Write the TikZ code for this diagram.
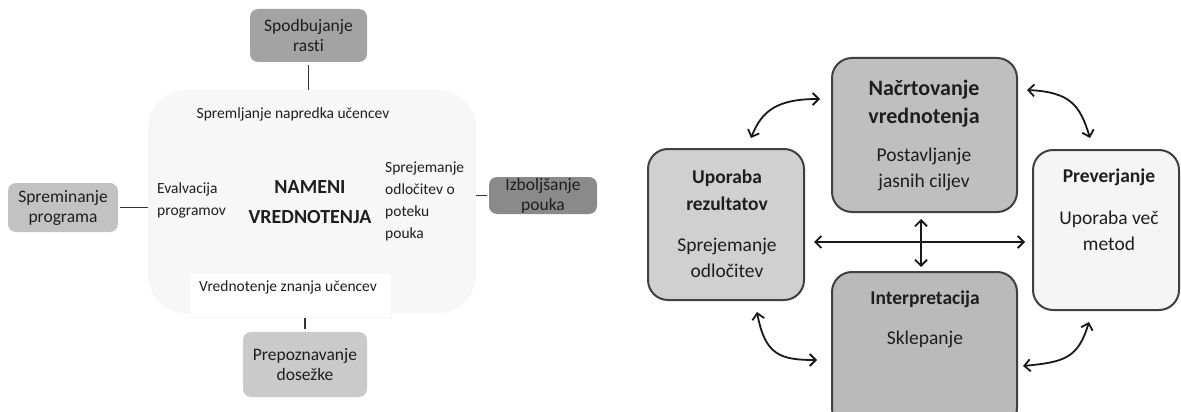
\documentclass[tikz,border=0pt]{standalone}
\usepackage{fontspec}
\setmainfont{Carlito}[Ligatures=NoCommon]
\usetikzlibrary{arrows.meta}
\definecolor{cspod}{HTML}{A3A3A3}
\definecolor{cizb}{HTML}{8A8A8A}
\definecolor{csprem}{HTML}{C2C2C2}
\definecolor{cprep}{HTML}{CACACA}
\definecolor{cbig}{HTML}{F7F7F7}
\definecolor{cnac}{HTML}{BFBFBF}
\definecolor{cupo}{HTML}{D0D0D0}
\definecolor{cpre}{HTML}{F5F5F5}
\definecolor{cint}{HTML}{BABABA}
\definecolor{cline}{HTML}{333333}
\definecolor{cborder}{HTML}{404040}
\definecolor{ctext}{HTML}{1E1E1E}
\begin{document}
\begin{tikzpicture}[x=1pt,y=-1pt,
  lbox/.style={draw=none, rounded corners=8pt, align=center, inner sep=0pt,
    font=\fontsize{17.5}{20}\selectfont, text=ctext},
  txt/.style={inner sep=0pt, font=\fontsize{15.5}{22}\selectfont, text=ctext},
  bigtxt/.style={inner sep=0pt, align=center, font=\fontsize{20}{30}\selectfont\bfseries, text=ctext},
  rbox/.style={draw=cborder, line width=2pt, rounded corners=20pt, inner sep=0pt},
  rhead/.style={inner sep=0pt, align=center, font=\fontsize{19.5}{27}\selectfont\bfseries, text=ctext},
  rbig/.style={inner sep=0pt, align=center, font=\fontsize{22}{28}\selectfont\bfseries, text=ctext},
  rbody/.style={inner sep=0pt, align=center, font=\fontsize{19.5}{26}\selectfont, text=ctext},
  conn/.style={line width=1.8pt, draw=cline},
  dbl/.style={line width=1.8pt, draw=black!90,
    {Straight Barb[length=6pt,width=12pt]}-{Straight Barb[length=6pt,width=12pt]}}]
\clip (0,0) rectangle (1181,412);
\fill[white] (0,0) rectangle (1181,412);

% ---------- left diagram ----------
\node[rounded corners=38pt, fill=cbig, minimum width=328pt, minimum height=223pt, inner sep=0pt] (big) at (312,201.5) {};
\node[fill=white, draw=black!4, line width=0.6pt, minimum width=202pt, minimum height=44pt, inner sep=0pt] (vz) at (290,295) {};

\node[lbox, fill=cspod, minimum width=117pt, minimum height=53pt] (spod) at (308.5,35.5) {Spodbujanje\\rasti};
\node[lbox, fill=cizb, minimum width=108pt, minimum height=37pt] (izb) at (543,195.5) {Izboljšanje\\pouka};
\node[lbox, fill=csprem, minimum width=110pt, minimum height=49pt] (sprem) at (63,207.5) {Spreminanje\\programa};
\node[lbox, fill=cprep, minimum width=124pt, minimum height=65pt] (prep) at (305,364.5) {Prepoznavanje\\dosežke};

\node[txt] (spr) at (293,114) {Spremljanje napredka učencev};
\node[txt, anchor=west, align=left] (eval) at (157,200) {Evalvacija\\programov};
\node[bigtxt] (nam) at (310,202) {NAMENI\\VREDNOTENJA};
\node[txt, anchor=west, align=left] (odl) at (385,201) {Sprejemanje\\odločitev o\\poteku\\pouka};
\node[txt] (vzt) at (288,287) {Vrednotenje znanja učencev};

\draw[conn, shorten <=3pt] (spod.south) -- (spod.south |- big.north);
\draw[conn, shorten <=2pt] (sprem.east) -- (sprem.east -| big.west);
\draw[conn, shorten <=2pt] (izb.west) -- (izb.west -| big.east);
\draw[conn, shorten <=1pt, shorten >=3pt] (vz.south -| prep.north) -- (prep.north);

% ---------- right diagram ----------
\node[rbox, fill=cnac, minimum width=185pt, minimum height=154pt] (nac) at (924.5,135) {};
\node[rbox, fill=cupo, minimum width=156pt, minimum height=151pt] (upo) at (726,224.5) {};
\node[rbox, fill=cpre, minimum width=146pt, minimum height=160pt] (pre) at (1106,230) {};
\node[rbox, fill=cint, minimum width=185pt, minimum height=156pt] (int) at (924.5,350) {};

\node[rbig] (nach) at (924,104) {Načrtovanje\\vrednotenja};
\node[rbody] (nacb) at (924,169) {Postavljanje\\jasnih ciljev};
\node[rhead] (upoh) at (727,190) {Uporaba\\rezultatov};
\node[rbody] (upob) at (727,258) {Sprejemanje\\odločitev};
\node[rhead] (preh) at (1109,177) {Preverjanje};
\node[rbody] (preb) at (1109,231) {Uporaba več\\metod};
\node[rhead] (inth) at (925,299) {Interpretacija};
\node[rbody] (intb) at (925,339) {Sklepanje};

\coordinate (hy) at (0,242);
\coordinate (vx) at (921,0);
\draw[dbl, shorten <=9pt, shorten >=7pt] (upo.east |- hy) -- (pre.west |- hy);
\draw[dbl, shorten <=6pt, shorten >=4pt] (nac.south -| vx) -- (int.north -| vx);

\coordinate (tla) at (820,99);
\coordinate (tlb) at (751,138);
\coordinate (tra) at (1027,90);
\coordinate (trb) at (1090,138);
\coordinate (bla) at (757,312);
\coordinate (blb) at (817,360);
\coordinate (bra) at (1089,322);
\coordinate (brb) at (1023,366);
\draw[dbl] (tla) .. controls (778,99) and (762,110) .. (tlb);
\draw[dbl] (tra) .. controls (1070,92) and (1080,105) .. (trb);
\draw[dbl] (bla) .. controls (765,355) and (780,360) .. (blb);
\draw[dbl] (bra) .. controls (1078,358) and (1065,362) .. (brb);
\end{tikzpicture}
\end{document}
